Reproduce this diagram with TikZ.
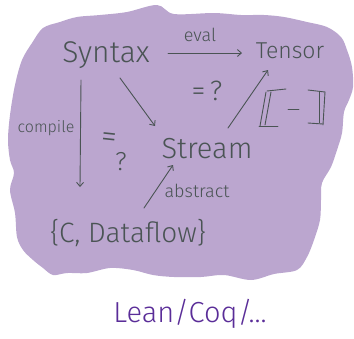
\documentclass[tikz,border=0pt]{standalone}
\usepackage{fontspec}
\setmainfont{Fira Sans}[UprightFont={* Light}]
\usetikzlibrary{arrows.meta,calc}
\definecolor{blob}{HTML}{BBA6CF}
\definecolor{ink}{HTML}{4A5454}
\definecolor{violet}{HTML}{5A2D98}
\tikzset{
  lbl/.style={inner sep=0pt, anchor=base, text=ink},
  arr/.style={draw=ink, line width=0.9pt, line cap=round,
    -{Straight Barb[length=4pt,width=7pt,line width=0.9pt]}},
  pen/.style={draw=ink, line width=0.9pt, line cap=round, line join=round},
}
\newcommand{\fsz}[1]{\fontsize{#1}{#1}\selectfont}
\begin{document}
\begin{tikzpicture}[x=1pt,y=-1pt]
\useasboundingbox (0,0) rectangle (354,338);

% the shaded cloud behind the diagram
\fill[blob] plot[smooth cycle, tension=0.55] coordinates {
  (157,5) (174,14) (214,13) (241,15) (264,15) (284,17) (307,22) (327,27)
  (341,37) (347,50) (352,67) (353,87) (349,100) (344,112) (342,133)
  (337,150) (331,167) (322,183) (321,200) (320,220) (314,240) (307,257)
  (297,270) (274,274) (251,280) (224,275) (201,277) (174,277) (153,275)
  (133,270) (110,268) (87,273) (67,273) (53,275) (43,268) (33,260)
  (23,250) (17,237) (15,213) (10,190) (14,173) (10,160) (8,140)
  (10,115) (15,85) (22,60) (32,43) (43,28) (60,22) (77,17) (100,15) (127,12)};

% terms
\node[lbl, font=\fsz{30}] (syntax) at (106,62) {Syntax};
\node[lbl, font=\fsz{23}] (tensor) at (290,58) {Tensor};
\node[lbl, font=\fsz{29}] (stream) at (207,158) {Stream};
\node[lbl, font=\fsz{28}] (target) at (128,242) {\{C, Dataflow\}};
\node[lbl, font=\fsz{29}, text=violet] (prover) at (190,322) {Lean/Coq/...};

% labels
\node[lbl, font=\fsz{18}] (evallbl) at (200,41) {eval};
\node[lbl, font=\fsz{16}] (complbl) at (46,132) {compile};
\node[lbl, font=\fsz{18}] (abslbl) at (197,197) {abstract};
\node[lbl, font=\fsz{28}] (eqtop) at (207,100) {=\,?};
\node[lbl, font=\fsz{32}, rotate=-6] (eqleft) at (108,147) {=};
\node[lbl, font=\fsz{26}] (qleft) at (121,170) {?};

% arrows
\draw[arr] ($(syntax.base)+(62,-9)$) -- ($(tensor.base)+(-48,-5)$);
\draw[arr] ($(syntax.base)+(14,16)$) -- ($(stream.base)+(-52,-32)$);
\draw[arr] ($(stream.base)+(21,-30)$) -- ($(tensor.base)+(-22,12)$);
\draw[arr] ($(syntax.base)+(-25,18)$) -- ($(target.base)+(-48,-55)$);
\draw[arr] ($(target.base)+(16,-34)$) -- ($(stream.base)+(-34,7)$);

% semantic brackets around a dash
\node[inner sep=0pt, minimum size=0pt] (sem) at (292,107) {};
\begin{scope}[shift={(sem)}]
  \draw[pen] (-6,-18) -- (-25,-16);
  \draw[pen] (-26,-15) -- (-32,19);
  \draw[pen] (-21,-15) -- (-27,18);
  \draw[pen] (-33,19) -- (-14,19);
  \draw[pen] (-4,2) -- (7,2);
  \draw[pen] (16,-17) -- (33,-15);
  \draw[pen] (27,-15) -- (27,16);
  \draw[pen] (33,-15) -- (31,18);
  \draw[pen] (16,16) -- (31,17);
\end{scope}
\end{tikzpicture}
\end{document}
